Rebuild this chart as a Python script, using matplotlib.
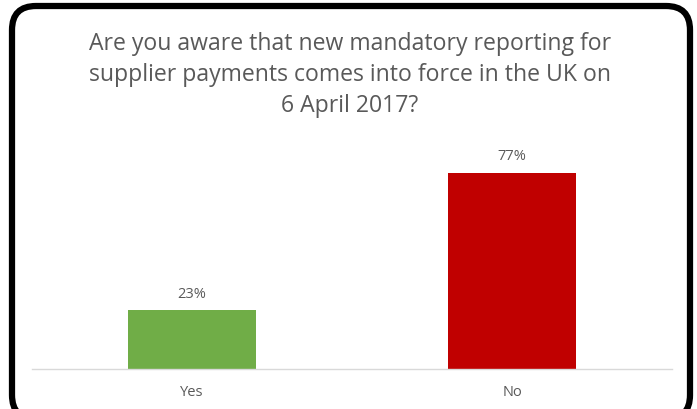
import matplotlib
matplotlib.use("Agg")
import matplotlib.pyplot as plt
from matplotlib.patches import FancyBboxPatch
from matplotlib.transforms import IdentityTransform

categories = ["Yes", "No"]
values = [23, 77]
bar_colors = ["#70AD47", "#C00000"]
title = ("Are you aware that new mandatory reporting for\n"
         "supplier payments comes into force in the UK on\n"
         "6 April 2017?")

W, H, DPI = 697, 410, 100
fig = plt.figure(figsize=(W / DPI, H / DPI), dpi=DPI)
plt.rcParams['font.family'] = ['Open Sans', 'DejaVu Sans']

text_color = "#595959"

# rounded frame around the chart, in pixel coordinates
frame = FancyBboxPatch((12, -10), 678, 413,
                       boxstyle="round,pad=0,rounding_size=24",
                       transform=IdentityTransform(),
                       facecolor="none", edgecolor="black",
                       linewidth=4.5, zorder=10)
fig.patches.append(frame)

base_y = 370
ymax = 90
px_per_unit = 196 / 77
ax_h = ymax * px_per_unit
ax = fig.add_axes([32 / W, (H - base_y) / H, 640 / W, ax_h / H])

x = range(len(categories))
bars = ax.bar(x, values, width=0.4, color=bar_colors)
for b, v in zip(bars, values):
    ax.annotate(f"{v}%", (b.get_x() + b.get_width() / 2, v),
                xytext=(0, 7), textcoords="offset points",
                ha="center", va="bottom", fontsize=10.5, color=text_color)

ax.set_xlim(-0.5, 1.5)
ax.set_ylim(0, ymax)
ax.set_xticks(list(x))
ax.set_xticklabels(categories, fontsize=10.5, color=text_color)
ax.tick_params(axis="x", length=0, pad=11)
ax.set_yticks([])
for s in ["top", "left", "right"]:
    ax.spines[s].set_visible(False)
ax.spines["bottom"].set_color("#D9D9D9")
ax.spines["bottom"].set_linewidth(1)

fig.text(350 / W, 1 - 75 / H, title, ha="center", va="center",
         fontsize=16.6, color=text_color, linespacing=1.38)

fig.savefig("out.png", dpi=DPI)
